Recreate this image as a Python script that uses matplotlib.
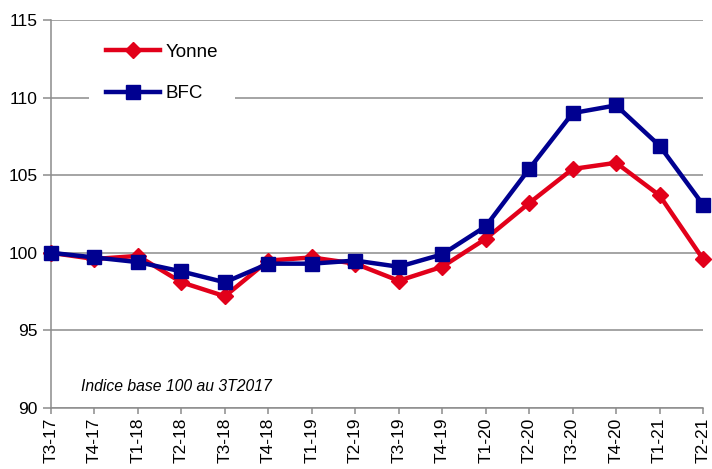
import numpy as np
import matplotlib.pyplot as plt

plt.rcParams['font.family'] = ['Liberation Sans', 'DejaVu Sans']

# ========== DONNÉES ==========
trimestres = ['T3-17', 'T4-17', 'T1-18', 'T2-18', 'T3-18', 'T4-18', 'T1-19', 'T2-19',
              'T3-19', 'T4-19', 'T1-20', 'T2-20', 'T3-20', 'T4-20', 'T1-21', 'T2-21']
yonne = [100.0, 99.6, 99.8, 98.1, 97.2, 99.5, 99.7, 99.3,
         98.2, 99.1, 100.9, 103.2, 105.4, 105.8, 103.7, 99.6]
bfc = [100.0, 99.7, 99.4, 98.8, 98.1, 99.3, 99.3, 99.5,
       99.1, 99.9, 101.7, 105.4, 109.0, 109.5, 106.9, 103.1]

rouge = '#E2001A'
bleu = '#000090'
gris = '#8C8C8C'

# ========== GRAPHIQUE ==========
fig = plt.figure(figsize=(7.12, 4.69), dpi=100)
ax = fig.add_axes([51 / 712, 1 - 408 / 469, (703 - 51) / 712, (408 - 20) / 469])

x = np.arange(len(trimestres))
ax.plot(x, yonne, color=rouge, linewidth=3.2, marker='D', markersize=8,
        label='Yonne', zorder=3, clip_on=False)
ax.plot(x, bfc, color=bleu, linewidth=3.2, marker='s', markersize=10.5,
        label='BFC', zorder=4, clip_on=False)

ax.set_xlim(0, len(trimestres) - 1)
ax.set_ylim(90, 115)
ax.set_yticks([90, 95, 100, 105, 110, 115])
ax.set_xticks(x)
ax.set_xticklabels(trimestres, rotation=90)

ax.grid(axis='y', color=gris, linewidth=1.1)
ax.set_axisbelow(True)
for s in ['top', 'right']:
    ax.spines[s].set_visible(False)
for s in ['left', 'bottom']:
    ax.spines[s].set_color(gris)
    ax.spines[s].set_linewidth(1.1)
ax.tick_params(axis='both', colors=gris, labelcolor='black', labelsize=12.5,
               width=1.1)
ax.tick_params(axis='y', length=6, pad=3.5)
ax.tick_params(axis='x', length=4, pad=3)

ax.text(0.68, 91.37, 'Indice base 100 au 3T2017', fontsize=11.3,
        style='italic', va='center')

leg = ax.legend(loc='upper left', bbox_to_anchor=(0.058, 0.982), frameon=True,
                fontsize=13.5, handlelength=2.9, handletextpad=0.27,
                labelspacing=1.3, borderpad=0.9, borderaxespad=0)
leg.get_frame().set_edgecolor('none')
leg.get_frame().set_facecolor('white')
leg.get_frame().set_alpha(1)

plt.savefig('out.png', dpi=100)
